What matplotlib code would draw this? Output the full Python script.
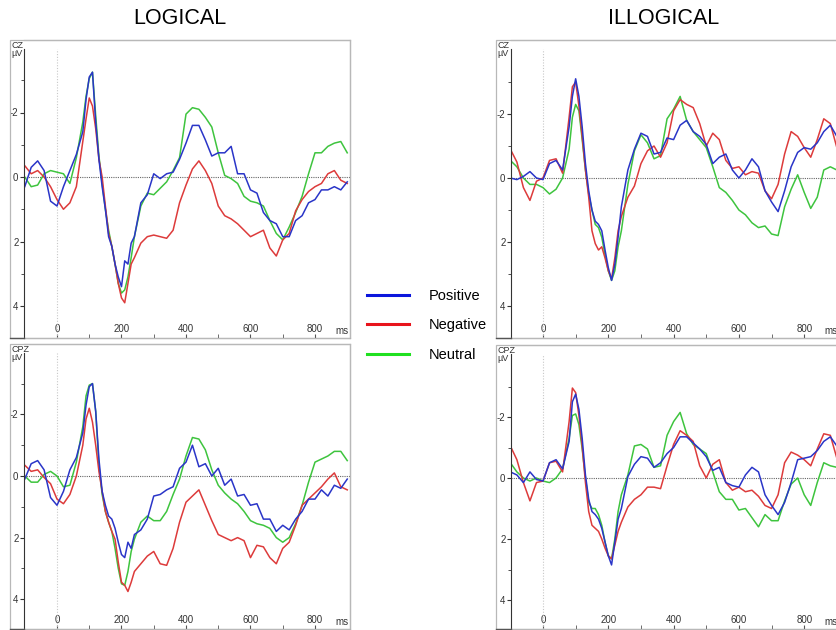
import matplotlib
matplotlib.use("Agg")
import matplotlib.pyplot as plt
from matplotlib.lines import Line2D
from matplotlib.patches import Rectangle

W, H = 836, 630
plt.rcParams["font.family"] = ["Liberation Sans", "DejaVu Sans"]
plt.rcParams["axes.unicode_minus"] = False

# time axis (ms), finer around P1 / N2
TIMES = [-100, -80, -60, -40, -20, 0, 20, 40, 60, 80,
         90, 100, 110, 120, 130, 140, 150, 160, 170, 180, 190, 200, 210, 220, 230,
         240, 260, 280, 300, 320, 340, 360, 380, 400, 420, 440, 460, 480, 500, 520,
         540, 560, 580, 600, 620, 640, 660, 680, 700, 720, 740, 760, 780, 800, 820,
         840, 860, 880, 900]

# amplitudes in uV (negative up, as plotted)
LOG_CZ_POS = [0.3, -0.3, -0.5, -0.2, 0.75, 0.9, 0.3, -0.2, -0.7, -1.4,
              -2.4, -3.1, -3.25, -1.7, -0.55, 0.3, 1.0, 1.85, 2.15, 2.7, 3.1, 3.4, 2.6, 2.7, 2.05,
              1.85, 0.8, 0.55, -0.1, 0.05, -0.1, -0.15, -0.55, -1.05, -1.6, -1.6, -1.15, -0.65, -0.75, -0.75,
              -0.95, -0.1, -0.1, 0.4, 0.5, 1.1, 1.35, 1.45, 1.85, 1.85, 1.35, 1.2, 0.8, 0.7, 0.4,
              0.4, 0.3, 0.4, 0.15]
LOG_CZ_NEG = [-0.35, -0.1, -0.2, 0.0, 0.3, 0.7, 1.0, 0.8, 0.3, -1.1,
              -1.8, -2.45, -2.2, -1.5, -0.55, 0.0, 0.9, 1.75, 2.15, 2.7, 3.3, 3.75, 3.9, 3.3, 2.7,
              2.5, 2.05, 1.85, 1.8, 1.85, 1.9, 1.65, 0.8, 0.25, -0.25, -0.5, -0.2, 0.2, 0.9, 1.2,
              1.3, 1.45, 1.65, 1.85, 1.75, 1.65, 2.2, 2.45, 1.95, 1.75, 1.05, 0.7, 0.45, 0.3, 0.2,
              -0.1, -0.2, 0.1, 0.2]
LOG_CZ_NEU = [0.0, 0.3, 0.25, -0.1, -0.2, -0.15, -0.1, 0.2, -0.6, -1.7,
              -2.5, -3.05, -3.25, -1.9, -0.65, 0.2, 1.0, 1.65, 2.15, 2.7, 3.3, 3.6, 3.5, 3.1, 2.5,
              1.85, 0.9, 0.5, 0.55, 0.35, 0.15, -0.2, -0.6, -1.95, -2.15, -2.1, -1.85, -1.55, -0.75, -0.05,
              0.05, 0.2, 0.6, 0.75, 0.8, 0.9, 1.35, 1.75, 1.95, 1.55, 1.1, 0.6, -0.1, -0.75, -0.75,
              -0.95, -1.05, -1.1, -0.75]

ILL_CZ_POS = [0.0, 0.05, -0.05, -0.2, 0.0, 0.05, -0.45, -0.55, -0.25, -1.6,
              -2.55, -3.1, -2.55, -1.6, -0.45, 0.4, 1.0, 1.35, 1.45, 1.65, 2.25, 2.8, 3.2, 2.7, 1.85,
              0.9, -0.25, -0.9, -1.4, -1.3, -0.75, -0.8, -1.25, -1.2, -1.65, -1.8, -1.45, -1.3, -1.05, -0.45,
              -0.65, -0.75, -0.25, 0.0, -0.25, -0.6, -0.35, 0.4, 0.75, 1.05, 0.4, -0.35, -0.8, -0.95, -0.9,
              -1.1, -1.45, -1.65, -1.3]
ILL_CZ_NEG = [-0.9, -0.5, 0.3, 0.7, 0.1, 0.0, -0.55, -0.6, -0.15, -1.9,
              -2.85, -3.0, -2.25, -1.3, -0.25, 0.6, 1.65, 2.05, 2.25, 2.15, 2.5, 2.9, 3.15, 2.5, 1.65,
              1.2, 0.6, 0.25, -0.45, -0.85, -1.0, -0.65, -1.1, -2.1, -2.45, -2.3, -2.2, -1.7, -1.0, -1.4,
              -1.2, -0.55, -0.3, -0.35, -0.1, -0.2, -0.15, 0.4, 0.65, 0.2, -0.75, -1.45, -1.3, -0.95, -0.65,
              -1.2, -1.85, -1.7, -0.95]
ILL_CZ_NEU = [-0.55, -0.35, 0.0, 0.2, 0.2, 0.3, 0.5, 0.35, 0.0, -0.9,
              -1.9, -2.3, -2.1, -1.2, -0.25, 0.5, 1.0, 1.45, 1.55, 1.85, 2.4, 2.9, 3.2, 2.9, 2.15,
              1.65, 0.2, -0.85, -1.35, -1.1, -0.6, -0.7, -1.85, -2.15, -2.55, -1.8, -1.45, -1.2, -0.95, -0.35,
              0.3, 0.45, 0.7, 1.0, 1.15, 1.4, 1.55, 1.5, 1.75, 1.8, 0.9, 0.35, -0.1, 0.45, 0.95,
              0.6, -0.25, -0.35, -0.25]

LOG_CPZ_POS = [0.1, -0.4, -0.5, -0.2, 0.7, 0.95, 0.5, -0.2, -0.6, -1.4,
               -2.3, -2.9, -3.0, -2.1, -0.55, 0.5, 0.95, 1.3, 1.4, 1.7, 2.15, 2.55, 2.65, 2.15, 2.35,
               1.9, 1.75, 1.4, 0.65, 0.6, 0.45, 0.35, -0.25, -0.45, -1.0, -0.3, -0.4, 0.0, -0.25, 0.3,
               0.1, 0.65, 0.6, 0.95, 0.9, 1.4, 1.4, 1.8, 1.6, 1.75, 1.4, 1.15, 0.75, 0.75, 0.45,
               0.65, 0.3, 0.4, 0.1]
LOG_CPZ_NEG = [-0.35, -0.15, -0.2, 0.05, 0.25, 0.75, 0.9, 0.6, 0.0, -1.0,
               -1.85, -2.2, -1.75, -1.0, -0.15, 0.5, 1.15, 1.5, 1.8, 2.05, 2.8, 3.45, 3.55, 3.75, 3.45,
               3.1, 2.85, 2.6, 2.45, 2.85, 2.9, 2.35, 1.5, 0.85, 0.65, 0.45, 0.95, 1.45, 1.9, 2.0,
               2.1, 2.0, 2.1, 2.65, 2.25, 2.3, 2.65, 2.85, 2.35, 2.15, 1.6, 0.95, 0.75, 0.55, 0.35,
               0.1, -0.1, 0.35, 0.45]
LOG_CPZ_NEU = [0.0, 0.2, 0.2, -0.05, -0.15, 0.0, 0.35, 0.3, -0.45, -1.6,
               -2.6, -2.95, -3.0, -2.1, -0.35, 0.6, 1.15, 1.5, 1.8, 2.35, 3.0, 3.5, 3.55, 3.1, 2.45,
               2.05, 1.5, 1.3, 1.45, 1.45, 1.15, 0.6, 0.1, -0.65, -1.25, -1.2, -0.85, -0.2, 0.3, 0.55,
               0.75, 0.9, 1.15, 1.45, 1.55, 1.6, 1.7, 2.0, 2.15, 2.0, 1.55, 0.95, 0.2, -0.45, -0.55,
               -0.65, -0.8, -0.8, -0.5]

ILL_CPZ_POS = [-0.2, -0.1, 0.15, -0.2, 0.05, 0.1, -0.5, -0.6, -0.3, -1.2,
               -2.5, -2.75, -2.25, -1.3, -0.1, 0.7, 1.1, 1.2, 1.35, 1.65, 2.1, 2.55, 2.85, 2.1, 1.35,
               1.0, -0.05, -0.45, -0.7, -0.65, -0.35, -0.5, -0.8, -1.0, -1.35, -1.35, -1.15, -0.95, -0.7, -0.25,
               -0.35, 0.15, 0.25, 0.3, -0.1, -0.35, -0.2, 0.55, 0.9, 1.2, 0.8, 0.15, -0.6, -0.65, -0.7,
               -0.9, -1.2, -1.35, -1.05]
ILL_CPZ_NEG = [-1.05, -0.6, 0.15, 0.75, 0.15, 0.1, -0.5, -0.55, -0.2, -1.85,
               -2.95, -2.8, -2.05, -1.05, 0.15, 1.1, 1.55, 1.65, 1.75, 2.0, 2.3, 2.55, 2.65, 2.2, 1.75,
               1.45, 0.95, 0.7, 0.55, 0.3, 0.3, 0.35, -0.4, -1.1, -1.55, -1.4, -1.2, -0.4, 0.0, -0.45,
               -0.6, 0.15, 0.4, 0.3, 0.45, 0.4, 0.6, 0.9, 1.0, 0.55, -0.5, -0.85, -0.75, -0.6, -0.4,
               -0.95, -1.45, -1.4, -0.65]
ILL_CPZ_NEU = [-0.5, -0.2, 0.0, 0.1, 0.0, 0.1, 0.15, 0.0, -0.3, -1.3,
               -2.05, -2.1, -1.75, -0.95, 0.0, 0.8, 1.0, 1.0, 1.2, 1.55, 2.1, 2.55, 2.65, 2.0, 1.1,
               0.55, -0.1, -1.05, -1.1, -0.95, -0.35, -0.4, -1.4, -1.85, -2.15, -1.45, -1.1, -0.95, -0.8, -0.2,
               0.45, 0.7, 0.7, 1.05, 1.0, 1.3, 1.6, 1.2, 1.4, 1.4, 0.75, 0.2, 0.0, 0.55, 0.9,
               0.15, -0.5, -0.4, -0.35]

CONDITIONS = ["Positive", "Negative", "Neutral"]
LINE_COLORS = {"Positive": "#2a35c8", "Negative": "#dd3b3b", "Neutral": "#3ec43e"}
LEGEND_COLORS = {"Positive": "#0b16dc", "Negative": "#e8141c", "Neutral": "#20e020"}


def px(x, y):
    return x / W, 1 - y / H


def panel(fig, frame, spine_x, x0, ppm, y0, ppu, chan, series):
    fx0, fy0, fx1, fy1 = frame
    fig.add_artist(Rectangle(px(fx0, fy1), (fx1 - fx0) / W, (fy1 - fy0) / H,
                             transform=fig.transFigure, fill=False, ec="#b8b8b8", lw=0.9))
    fig.add_artist(Line2D([fx0 / W, spine_x / W], [1 - fy1 / H] * 2,
                          transform=fig.transFigure, color="#555555", lw=1.0))
    ax = fig.add_axes([spine_x / W, 1 - fy1 / H, (fx1 - spine_x) / W, (fy1 - fy0) / H])
    ax.patch.set_alpha(0)
    ymax, ymin = (fy1 - y0) / ppu, (fy0 - y0) / ppu
    ax.set_xlim((spine_x - x0) / ppm, (fx1 - x0) / ppm)
    ax.set_ylim(ymax, ymin)
    ytop = (fy0 + 9 - y0) / ppu

    for s in ("top", "right"):
        ax.spines[s].set_color("#b8b8b8")
        ax.spines[s].set_linewidth(0.9)
    ax.spines["bottom"].set_color("#555555")
    ax.spines["left"].set_color("#333333")
    ax.spines["left"].set_bounds(ymax, ytop)

    ax.plot([0, 0], [ymax, ytop], color="#c8c8c8", ls=(0, (1, 1.5)), lw=0.8)
    ax.axhline(0, color="#666666", ls=(0, (1, 1)), lw=0.8)

    for name in ["Neutral", "Negative", "Positive"]:
        ax.plot(TIMES, series[name], color=LINE_COLORS[name], lw=1.1)

    ax.set_xticks([0, 200, 400, 600, 800])
    ax.set_xticks([100, 300, 500, 700], minor=True)
    ax.set_yticks([-2, 0, 2, 4])
    ax.set_yticks([-3, -1, 1, 3], minor=True)
    ax.tick_params(axis="x", which="both", direction="in", length=3, pad=-10,
                   labelsize=7, color="#555555", labelcolor="#333333")
    ax.tick_params(axis="y", which="major", direction="out", length=3, pad=1,
                   labelsize=7, color="#333333", labelcolor="#333333")
    ax.tick_params(axis="y", which="minor", direction="out", length=2, color="#333333")
    ax.text(862, 0.024, "ms", transform=ax.get_xaxis_transform(), fontsize=7,
            color="#333333", ha="left", va="center")
    fig.text((fx0 + 1) / W, 1 - (fy0 + 1) / H, chan + "\nµV", fontsize=6.5,
             color="#333333", va="top", ha="left", linespacing=0.9)
    return ax


fig = plt.figure(figsize=(W / 100, H / 100), dpi=100)

panel(fig, (10, 40, 350, 338), 24, 57, 0.3225, 177, 32.25, "CZ",
      {"Positive": LOG_CZ_POS, "Negative": LOG_CZ_NEG, "Neutral": LOG_CZ_NEU})
panel(fig, (496, 40, 850, 338), 511, 543, 0.3265, 178, 32.0, "CZ",
      {"Positive": ILL_CZ_POS, "Negative": ILL_CZ_NEG, "Neutral": ILL_CZ_NEU})
panel(fig, (10, 344, 350, 629), 24, 57, 0.3225, 476, 30.8, "CPZ",
      {"Positive": LOG_CPZ_POS, "Negative": LOG_CPZ_NEG, "Neutral": LOG_CPZ_NEU})
panel(fig, (496, 345, 850, 629), 511, 543, 0.3265, 478, 30.5, "CPZ",
      {"Positive": ILL_CPZ_POS, "Negative": ILL_CPZ_NEG, "Neutral": ILL_CPZ_NEU})

fig.text(*px(180, 19), "LOGICAL", ha="center", va="center", fontsize=15.5)
fig.text(*px(664, 19), "ILLOGICAL", ha="center", va="center", fontsize=15.5)

handles = [Line2D([], [], color=LEGEND_COLORS[c], lw=2.2) for c in CONDITIONS]
fig.legend(handles, CONDITIONS, loc="upper left", bbox_to_anchor=px(367, 289),
           frameon=False, fontsize=10.5, handlelength=2.85, handletextpad=1.35,
           labelspacing=1.05, borderaxespad=0, borderpad=0)

fig.savefig("out.png", dpi=100)
